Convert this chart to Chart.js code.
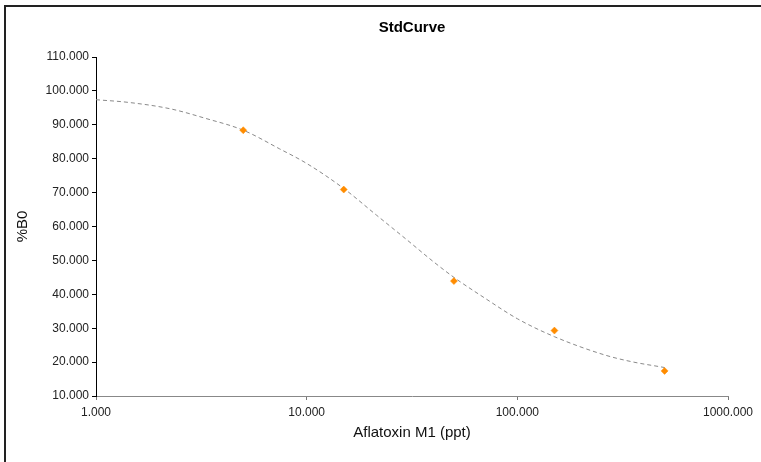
<!DOCTYPE html>
<html>
<head>
<meta charset="utf-8">
<script src="https://cdn.jsdelivr.net/npm/chart.js@4.4.1/dist/chart.umd.min.js"></script>
<style>
  html, body { margin: 0; padding: 0; background: #fff; }
  #wrap { width: 761px; height: 462px; position: relative; }
</style>
</head>
<body>
<div id="wrap"><canvas id="c" width="761" height="462"></canvas></div>
<script>
// Measured standards
const stdConc = [5, 15, 50, 150, 500];
const stdB0 = [88.4, 70.9, 43.9, 29.3, 17.4];

// Fitted curve
const curveConc = [1, 1.43, 2.26, 3.31, 5, 7.44, 10, 15, 21.4, 30, 40, 50, 70, 100, 150, 260, 350, 500];
const curveB0 = [97.4, 96.6, 94.7, 91.9, 88.4, 82.9, 78.6, 71.2, 63.4, 56.0, 49.6, 45.0, 38.9, 32.8, 27.5, 22.1, 20.1, 18.4];

// Axis ticks
const xTicks = [1, 10, 100, 1000];
const yTicks = [10, 20, 30, 40, 50, 60, 70, 80, 90, 100, 110];

const titleText = 'StdCurve';
const xTitle = 'Aflatoxin M1 (ppt)';
const yTitle = '%B0';

const FONT = "'Liberation Sans', Arial, sans-serif";

const framePlugin = {
  id: 'frame',
  beforeDraw(chart) {
    const ctx = chart.ctx;
    ctx.save();
    ctx.fillStyle = '#fff';
    ctx.fillRect(0, 0, chart.width, chart.height);
    ctx.strokeStyle = '#222';
    ctx.lineWidth = 2;
    ctx.beginPath();
    ctx.moveTo(5, chart.height);
    ctx.lineTo(5, 6);
    ctx.lineTo(chart.width, 6);
    ctx.stroke();
    ctx.restore();
  }
};

new Chart(document.getElementById('c'), {
  type: 'scatter',
  data: {
    datasets: [
      {
        label: 'curve',
        data: curveConc.map((x, i) => ({ x: x, y: curveB0[i] })),
        showLine: true,
        borderColor: '#8a8a8a',
        borderWidth: 1,
        borderDash: [4, 3],
        pointRadius: 0,
        cubicInterpolationMode: 'monotone',
        fill: false,
        order: 2
      },
      {
        label: 'standards',
        data: stdConc.map((x, i) => ({ x: x, y: stdB0[i] })),
        pointStyle: 'rectRot',
        pointRadius: 3.5,
        pointBorderWidth: 0.5,
        backgroundColor: '#ff8c00',
        borderColor: '#ff8c00',
        order: 1
      }
    ]
  },
  options: {
    responsive: false,
    animation: false,
    devicePixelRatio: 1,
    layout: { padding: { left: 0, right: 33, top: 0, bottom: 0 } },
    plugins: {
      legend: { display: false },
      tooltip: { enabled: false },
      title: {
        display: true,
        text: titleText,
        fullSize: false,
        color: '#000',
        font: { family: FONT, size: 15, weight: 'bold' },
        padding: { top: 19, bottom: 20 }
      }
    },
    scales: {
      x: {
        type: 'logarithmic',
        min: 1,
        max: 1000,
        afterBuildTicks(scale) { scale.ticks = xTicks.map(v => ({ value: v })); },
        afterFit(scale) { scale.height = 66; },
        ticks: {
          color: '#222',
          font: { family: FONT, size: 12 },
          padding: 5,
          maxRotation: 0,
          autoSkip: false,
          callback: (v) => Number(v).toFixed(3)
        },
        grid: { display: true, drawOnChartArea: false, drawTicks: true, tickLength: 4, tickColor: '#777' },
        border: { display: true, color: '#888', width: 1 },
        title: {
          display: true,
          text: xTitle,
          color: '#111',
          font: { family: FONT, size: 15 },
          padding: { top: 0, bottom: 20 }
        }
      },
      y: {
        type: 'linear',
        min: 10,
        max: 110,
        afterBuildTicks(scale) { scale.ticks = yTicks.map(v => ({ value: v })); },
        afterFit(scale) { scale.width = 96; },
        ticks: {
          color: '#222',
          font: { family: FONT, size: 12 },
          padding: 3,
          autoSkip: false,
          callback: (v) => Number(v).toFixed(3)
        },
        grid: { display: true, drawOnChartArea: false, drawTicks: true, tickLength: 4, tickColor: '#000' },
        border: { display: true, color: '#000', width: 1 },
        title: {
          display: true,
          text: yTitle,
          color: '#111',
          font: { family: FONT, size: 15 },
          padding: { top: 14, bottom: 0 }
        }
      }
    }
  },
  plugins: [framePlugin]
});
</script>
</body>
</html>
